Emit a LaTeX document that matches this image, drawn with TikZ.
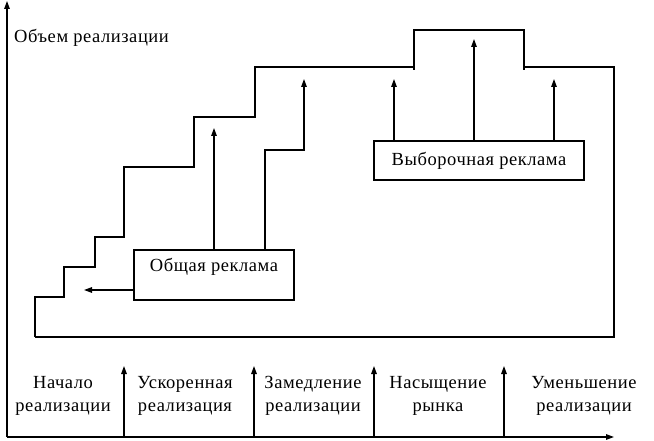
\documentclass[tikz,border=0pt]{standalone}
\usepackage{fontspec}
\setmainfont{Liberation Serif}[LetterSpace=3]
\usetikzlibrary{arrows.meta}
\begin{document}
\begin{tikzpicture}[x=1pt,y=-1pt,
  line/.style={line width=1.3pt},
  arr/.style={line width=1.3pt,-{Triangle[length=8pt,width=5.5pt]}},
  txt/.style={font=\fontsize{18.5}{22}\selectfont},
  boxnode/.style={draw,line width=1.3pt,inner sep=0pt,txt},
  lbl/.style={align=center,inner sep=0pt,font=\fontsize{18.5}{23}\selectfont}]
\useasboundingbox (0,0) rectangle (654,441);
% axes
\coordinate (O) at (7,437);
\coordinate (ytop) at (7,1);
\coordinate (xend) at (614,437);
\draw[arr] (O) -- (ytop);
\draw[arr] (O) -- (xend);
\node[anchor=west,inner sep=0pt,txt] (title) at (14,38) {Объем реализации};
% staircase
\draw[line] (35,337) -- (35,297) -- (64,297) -- (64,267) -- (95,267) -- (95,237)
  -- (124,237) -- (124,167) -- (194,167) -- (194,117) -- (255,117) -- (255,67) -- (414,67);
\draw[line] (414,70) -- (414,30) -- (524,30) -- (524,70);
\draw[line] (524,67) -- (614,67) -- (614,337) -- (35,337);
% boxes
\node[boxnode,minimum width=160pt,minimum height=50pt] (gen) at (214,275) {};
\node[txt,inner sep=0pt] (gentxt) at (214,267) {Общая реклама};
\node[boxnode,minimum width=210pt,minimum height=39pt] (sel) at (479,160.5) {Выборочная реклама};
% arrows from general advertising
\coordinate (g1) at (214,128);
\coordinate (g2) at (304,79);
\coordinate (gbend1) at (265,150);
\coordinate (gbend2) at (304,150);
\coordinate (gl) at (84,290);
\draw[arr] (gen.north -| g1) -- (g1);
\draw[arr] (gen.north -| gbend1) -- (gbend1) -- (gbend2) -- (g2);
\draw[arr] (gen.west |- gl) -- (gl);
% arrows from selective advertising
\coordinate (s1) at (394,79);
\coordinate (s2) at (474,39);
\coordinate (s3) at (554,79);
\draw[arr] (sel.north -| s1) -- (s1);
\draw[arr] (sel.north -| s2) -- (s2);
\draw[arr] (sel.north -| s3) -- (s3);
% stage separators
\foreach \n/\xx in {a/124,b/254,c/374,d/504}{
  \coordinate (t\n) at (\xx,366);
  \draw[arr] (O -| t\n) -- (t\n);
}
% stage labels
\node[lbl] (l1) at (63,396) {Начало\\реализации};
\node[lbl] (l2) at (185,396) {Ускоренная\\реализация};
\node[lbl] (l3) at (313,396) {Замедление\\реализации};
\node[lbl] (l4) at (438,396) {Насыщение\\рынка};
\node[lbl] (l5) at (584,396) {Уменьшение\\реализации};
\end{tikzpicture}
\end{document}
